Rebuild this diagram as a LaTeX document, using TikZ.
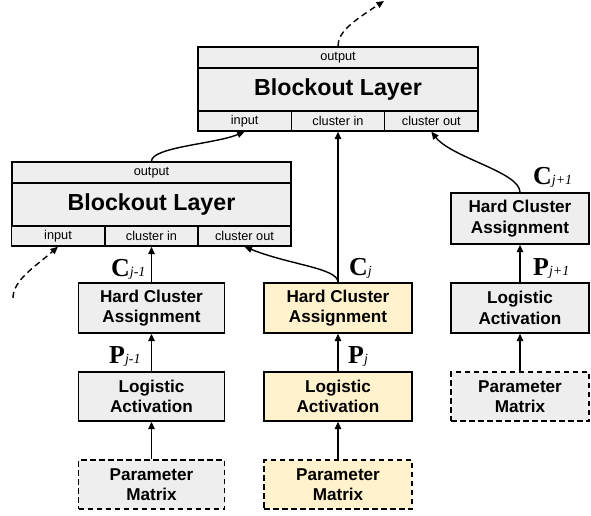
\documentclass[tikz,border=0pt]{standalone}
\usepackage{fontspec}
\setmainfont{Liberation Sans}
\newfontfamily\labfont{Liberation Serif}
\usetikzlibrary{arrows.meta}
\definecolor{boxgray}{HTML}{EEEEEE}
\definecolor{boxyellow}{HTML}{FFF2CC}
\newcommand{\vlab}[2]{{\labfont\fontsize{26}{26}\selectfont\bfseries #1}{\labfont\fontsize{14}{14}\selectfont\itshape #2}}
\begin{document}
\begin{tikzpicture}[x=1bp,y=-1bp,
  box/.style={draw=black, line width=1.4bp, fill=boxgray, inner sep=0pt, align=center,
    font=\fontsize{17.2}{20.5}\selectfont\bfseries},
  yel/.style={fill=boxyellow},
  pm/.style={dash pattern=on 5.5bp off 3.5bp},
  port/.style={draw=black, line width=1.4bp, fill=boxgray, inner sep=0pt,
    font=\fontsize{12.8}{14}\selectfont, minimum width=93.33bp, minimum height=20bp},
  mainbox/.style={draw=black, line width=1.4bp, fill=boxgray, inner sep=0pt,
    font=\fontsize{23.3}{26}\selectfont\bfseries, minimum width=280bp, minimum height=43bp},
  arr/.style={-{Triangle[length=7.5bp,width=6.5bp]}, line width=1.4bp},
  lab/.style={inner sep=0pt}]
\fill[white] (0,0) rectangle (591,516);
\useasboundingbox (0,0) rectangle (591,516);

% top blockout layer
\node[port, minimum width=280bp, minimum height=21bp] (Tout) at (338,57.5) {output};
\node[mainbox] (Tmain) at (338,89.5) {Blockout Layer};
\node[port] (Tin) at (244.67,121) {input};
\node[port] (Tcin) at (338,121) {cluster in};
\node[port] (Tcout) at (431.33,121) {cluster out};

% left blockout layer
\node[port, minimum width=279bp, minimum height=21bp] (Lout) at (151.5,172.5) {output};
\node[mainbox, minimum width=279bp] (Lmain) at (151.5,204.5) {Blockout Layer};
\node[port, minimum width=93bp] (Lin) at (58,236) {input};
\node[port, minimum width=93bp] (Lcin) at (151.5,236) {cluster in};
\node[port, minimum width=93bp] (Lcout) at (244.5,236) {cluster out};

% left column
\node[box, minimum width=146bp, minimum height=50bp] (Lhca) at (151.5,308) {Hard Cluster\\Assignment};
\node[box, minimum width=146bp, minimum height=49bp] (Llog) at (151.5,396.5) {Logistic\\Activation};
\node[box, pm, minimum width=146bp, minimum height=49bp] (Lpm) at (151.5,484.5) {Parameter\\Matrix};

% middle column
\node[box, yel, minimum width=148bp, minimum height=50bp] (Mhca) at (338,308) {Hard Cluster\\Assignment};
\node[box, yel, minimum width=148bp, minimum height=49bp] (Mlog) at (338,396.5) {Logistic\\Activation};
\node[box, yel, pm, minimum width=148bp, minimum height=49bp] (Mpm) at (338,484.5) {Parameter\\Matrix};

% right column
\node[box, minimum width=138bp, minimum height=51bp] (Rhca) at (520,218.5) {Hard Cluster\\Assignment};
\node[box, minimum width=138bp, minimum height=50bp] (Rlog) at (520,308) {Logistic\\Activation};
\node[box, pm, minimum width=138bp, minimum height=49bp] (Rpm) at (520,396.5) {Parameter\\Matrix};

% vertical arrows
\draw[arr] (Lpm.north) -- (Llog.south);
\draw[arr] (Llog.north) -- (Lhca.south);
\draw[arr] (Lhca.north) -- (Lcin.south);
\draw[arr] (Mpm.north) -- (Mlog.south);
\draw[arr] (Mlog.north) -- (Mhca.south);
\draw[arr] (Mhca.north) -- (Tcin.south);
\draw[arr] (Rpm.north) -- (Rlog.south);
\draw[arr] (Rlog.north) -- (Rhca.south);

% curved arrows
\draw[arr] (Mhca.north) .. controls (338,268) and (290,265) .. (Lcout.south);
\draw[arr] (Rhca.north) .. controls (520,172) and (452,158) .. (Tcout.south);
\draw[arr] (Lout.north) .. controls (151.5,147) and (215,144) .. (Tin.south);

% dashed arrows
\coordinate (topend) at (384,1);
\draw[arr, dash pattern=on 6bp off 4bp] (Tout.north) .. controls (338,32) and (352,22) .. (topend);
\coordinate (leftstart) at (13,298);
\draw[arr, dash pattern=on 6bp off 4bp] (leftstart) .. controls (13,280) and (36,266) .. (Lin.south);

% labels
\node[lab, anchor=base west] (cjm) at (111,276) {\vlab{C}{j-1}};
\node[lab, anchor=base west] (pjm) at (109,363) {\vlab{P}{j-1}};
\node[lab, anchor=base west] (cj) at (349,275) {\vlab{C}{j}};
\node[lab, anchor=base west] (pj) at (348,363) {\vlab{P}{j}};
\node[lab, anchor=base west] (cjp) at (533,185) {\vlab{C}{j+1}};
\node[lab, anchor=base west] (pjp) at (533,275) {\vlab{P}{j+1}};
\end{tikzpicture}
\end{document}
